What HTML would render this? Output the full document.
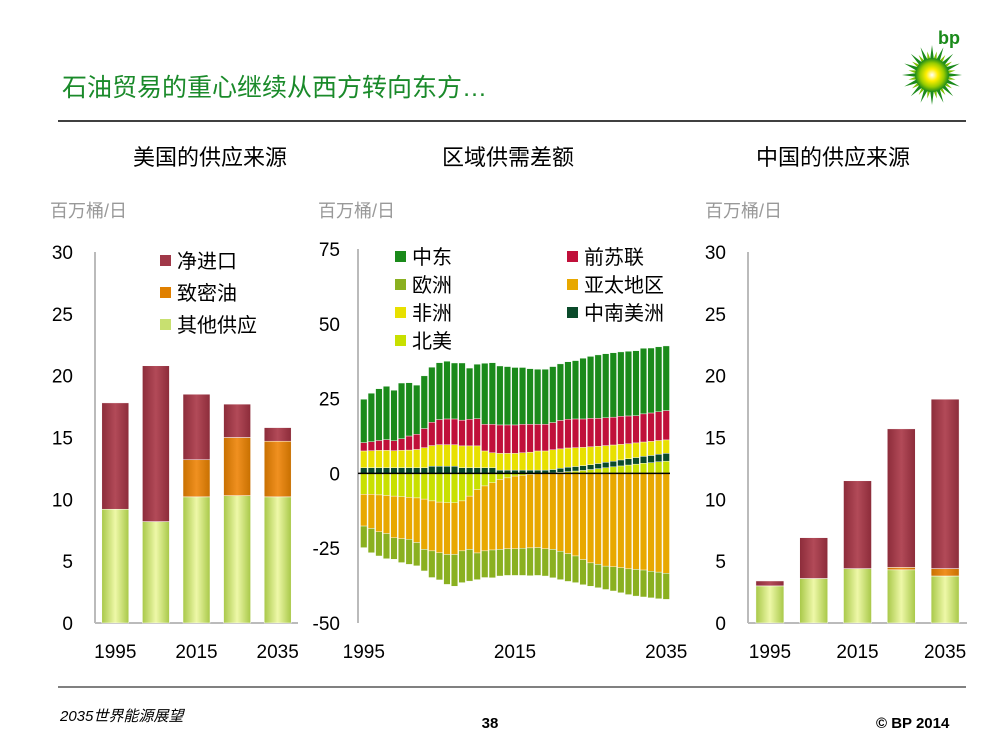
<!DOCTYPE html>
<html><head><meta charset="utf-8"><style>
body{margin:0;background:#fff}
svg text{font-family:"Liberation Sans","Noto Sans CJK SC",sans-serif}
</style></head><body>
<svg id="s" width="1000" height="750" viewBox="0 0 1000 750" xmlns="http://www.w3.org/2000/svg">
<defs>
<linearGradient id="gOther" x1="0" x2="1"><stop offset="0" stop-color="#a8c848"/><stop offset="0.5" stop-color="#eef8a8"/><stop offset="1" stop-color="#a8c848"/></linearGradient>
<linearGradient id="gNet" x1="0" x2="1"><stop offset="0" stop-color="#8c2c3a"/><stop offset="0.5" stop-color="#b24a58"/><stop offset="1" stop-color="#8c2c3a"/></linearGradient>
<linearGradient id="gTight" x1="0" x2="1"><stop offset="0" stop-color="#c87000"/><stop offset="0.5" stop-color="#f09020"/><stop offset="1" stop-color="#c87000"/></linearGradient>
<radialGradient id="sun"><stop offset="0" stop-color="#fff"/><stop offset="0.35" stop-color="#ffee00"/><stop offset="0.7" stop-color="#9acd00"/><stop offset="1" stop-color="#1a8a1a"/></radialGradient>
</defs>
<text x="62" y="96" font-size="25" fill="#1a8a2a">石油贸易的重心继续从西方转向东方…</text>
<line x1="58" y1="121" x2="966" y2="121" stroke="#000" stroke-width="1.5"/>
<g>
<text x="938" y="44" font-size="18" fill="#1a8a1a" font-weight="bold">bp</text>
<g id="logo"></g>
</g>
<text x="210" y="165" font-size="22" text-anchor="middle">美国的供应来源</text>
<text x="508" y="165" font-size="22" text-anchor="middle">区域供需差额</text>
<text x="833" y="165" font-size="22" text-anchor="middle">中国的供应来源</text>
<text x="50" y="217" font-size="18" fill="#999">百万桶/日</text>
<text x="318" y="217" font-size="18" fill="#999">百万桶/日</text>
<text x="705" y="217" font-size="18" fill="#999">百万桶/日</text>
<g id="us"></g><g id="mid"></g><g id="cn"></g>
<line x1="58" y1="687" x2="966" y2="687" stroke="#000" stroke-width="1"/>
<text x="60" y="721" font-size="15" font-style="italic">2035世界能源展望</text>
<text x="490" y="728" font-size="15" font-weight="bold" text-anchor="middle">38</text>
<text x="876" y="728" font-size="15" font-weight="bold">© BP 2014</text>
</svg>
<script>
const NS="http://www.w3.org/2000/svg";
function mk(p,t,a){const e=document.createElementNS(NS,t);for(const k in a)e.setAttribute(k,a[k]);p.appendChild(e);return e;}
// logo
(function(){const g=document.getElementById('logo');const cx=932,cy=75;
for(let r=0;r<2;r++)for(let i=0;i<16;i++){const a=(i+r*0.5)/16*Math.PI*2;const R=r?24:30,w=0.2;
mk(g,'polygon',{points:`${cx+Math.cos(a-w)*12},${cy+Math.sin(a-w)*12} ${cx+Math.cos(a)*R},${cy+Math.sin(a)*R} ${cx+Math.cos(a+w)*12},${cy+Math.sin(a+w)*12}`,fill:r?'#7cc000':'#1a8a1a'});}
mk(g,'circle',{cx:cx,cy:cy,r:17,fill:'url(#sun)'});})();

// ===== stacked supply charts data =====
const supplyYears=["1995","2005","2015","2025","2035"];
const usOther=[9.2,8.2,10.2,10.3,10.2];
const usTight=[0,0,3.0,4.7,4.5];
const usNet=[8.6,12.6,5.3,2.7,1.1];
const cnOther=[3.0,3.6,4.4,4.3,3.8];
const cnTight=[0,0,0,0.2,0.6];
const cnNet=[0.4,3.3,7.1,11.2,13.7];
const supplyTicks=[0,5,10,15,20,25,30];
const supplyXLabels=["1995","2015","2035"];

function supplyChart(id,pref,x0,x1,other,tight,net,bw,legend){
  const g=document.getElementById(id);
  const yT=252,yB=623,max=30;
  const y=v=>yB-(v/max)*(yB-yT);
  const step=(x1-x0)/supplyYears.length;
  const xc=i=>x0+step*(i+0.5);
  mk(g,'line',{x1:x0,y1:yT,x2:x0,y2:yB,stroke:'#bbb','stroke-width':2});
  mk(g,'line',{x1:x0,y1:yB,x2:x1,y2:yB,stroke:'#bbb','stroke-width':2});
  supplyTicks.forEach(t=>{const e=mk(g,'text',{x:x0-22,y:y(t)+7,'font-size':19,'text-anchor':'end'});e.textContent=t;
    
    });
  supplyXLabels.forEach((l,k)=>{const i=k*2;const e=mk(g,'text',{x:xc(i),y:yB+35,'font-size':19,'text-anchor':'middle'});e.textContent=l;
    
    });
  supplyYears.forEach((yr,i)=>{let b=0;
    [[other,'url(#gOther)','other'],[tight,'url(#gTight)','tight'],[net,'url(#gNet)','net']].forEach(([arr,f,n])=>{
      const v=arr[i];if(v<=0)return;
      const r=mk(g,'rect',{x:xc(i)-bw/2,y:y(b+v),width:bw,height:y(b)-y(b+v),fill:f,stroke:'#fff','stroke-width':0.5});
      
      
      b+=v;});
  });
  if(legend){[['净进口','#a03848'],['致密油','#e08000'],['其他供应','#c8e070']].forEach(([l,c],k)=>{
    mk(g,'rect',{x:160,y:255+k*32,width:11,height:11,fill:c});
    const t=mk(g,'text',{x:177,y:268+k*32,'font-size':20});t.textContent=l;
    
    });}
}
supplyChart('us','us',95,298,usOther,usTight,usNet,27,true);
supplyChart('cn','china',748,967,cnOther,cnTight,cnNet,28,false);

// ===== regional balance data =====
const balYears=Array.from({length:41},(_,i)=>1995+i);
const balTicks=[-50,-25,0,25,50,75];
const balXLabels=["1995","2015","2035"];
const meVals=[14.5,16.2,17.3,17.8,16.9,18.6,17.8,16.4,17.6,18.4,19.0,19.3,18.7,19.1,17.1,18.2,20.4,20.6,19.7,19.5,19.2,19.0,18.6,18.4,18.4,18.7,18.9,19.2,19.5,20.3,20.7,21.2,21.4,21.5,21.5,21.6,21.7,21.9,21.7,21.7,21.6];
const fsuVals=[2.8,3.0,3.3,3.6,3.3,3.9,4.7,5.1,6.4,7.8,8.4,8.6,8.6,8.6,8.9,9.1,8.9,9.5,9.5,9.5,9.5,9.5,9.3,8.9,8.9,9.1,9.5,9.6,9.6,9.5,9.5,9.3,9.3,9.3,9.4,9.3,9.1,9.4,9.5,9.6,9.8];
const afVals=[5.6,5.7,5.8,5.8,5.7,5.8,5.9,6.1,6.7,6.9,7.2,7.2,7.2,7.3,7.3,7.3,5.6,5.0,5.6,5.6,5.6,5.8,6.0,6.4,6.4,6.6,6.5,6.4,6.3,6.1,6.0,5.8,5.6,5.4,5.2,5.0,4.9,4.8,4.7,4.6,4.5];
const scaVals=[1.9,1.9,1.9,1.9,1.9,1.9,1.9,1.9,1.9,2.4,2.4,2.4,2.4,1.9,1.9,1.9,1.9,1.9,1.1,1.1,1.1,1.1,1.1,1.1,1.1,1.1,1.3,1.5,1.5,1.6,1.6,1.7,1.8,1.9,2.0,2.1,2.2,2.3,2.4,2.5,2.6];
const naVals=[-7.0,-7.0,-7.2,-7.4,-7.6,-7.8,-8.0,-8.2,-8.6,-9.2,-9.6,-9.8,-9.8,-9.2,-7.6,-5.4,-4.2,-3.1,-2.0,-1.5,-0.9,-0.6,-0.3,-0.1,0,0.2,0.4,0.6,0.8,1.0,1.3,1.6,1.9,2.2,2.5,2.8,3.1,3.4,3.6,3.9,4.1];
const asiaVals=[-10.6,-11.4,-12.3,-12.7,-13.9,-14.0,-14.0,-14.9,-16.8,-16.7,-16.9,-17.3,-17.3,-16.7,-17.8,-21.2,-21.7,-22.5,-23.4,-23.7,-24.3,-24.4,-24.6,-24.7,-25.2,-25.4,-26.0,-26.8,-27.6,-28.8,-29.9,-30.4,-31.0,-31.2,-31.5,-31.9,-32.1,-32.3,-32.7,-33.0,-33.4];
const euVals=[-7.2,-8.1,-8.1,-8.4,-7.2,-8.0,-8.4,-7.8,-7.2,-8.9,-9.1,-10.0,-10.6,-10.6,-10.6,-8.9,-8.9,-9.3,-8.9,-8.9,-8.9,-9.1,-9.3,-9.3,-9.1,-9.5,-9.5,-9.3,-8.9,-8.4,-7.8,-7.8,-7.8,-8.1,-8.4,-8.6,-8.9,-9.0,-8.9,-8.9,-8.7];
(function(){
  const g=document.getElementById('mid');
  const x0=358,x1=670,yT=249,yB=623,mn=-50,mx=75;
  const y=v=>yB-(v-mn)/(mx-mn)*(yB-yT);
  const step=(x1-x0-2)/balYears.length;
  const xl=i=>x0+2+step*i;
  mk(g,'line',{x1:x0,y1:yT,x2:x0,y2:yB,stroke:'#bbb','stroke-width':2});
  balTicks.forEach(t=>{const e=mk(g,'text',{x:x0-18,y:y(t)+7,'font-size':19,'text-anchor':'end'});e.textContent=t;
    
    });
  balXLabels.forEach((l,k)=>{const i=balYears.indexOf(+l);const e=mk(g,'text',{x:xl(i)+step/2,y:yB+35,'font-size':19,'text-anchor':'middle'});e.textContent=l;
    
    });
  const series=[['na',naVals,'#c8e000'],['sca',scaVals,'#0a4a2a'],['africa',afVals,'#e8e000'],['fsu',fsuVals,'#c0103a'],['me',meVals,'#1a8a1a'],['asia',asiaVals,'#e8a800'],['europe',euVals,'#8ab020']];
  balYears.forEach((yr,i)=>{let pos=0,neg=0;
    series.forEach(([n,arr,c])=>{const v=arr[i];if(v===0)return;let a,b;
      if(v>0){a=pos;b=pos+v;pos=b;}else{a=neg;b=neg+v;neg=b;}
      const top=y(Math.max(a,b)),bot=y(Math.min(a,b));
      const r=mk(g,'rect',{x:xl(i)+0.5,y:top,width:step-1,height:bot-top,fill:c,stroke:'#fff','stroke-width':0.4});
      
      });
  });
  mk(g,'line',{x1:x0,y1:y(0),x2:x1,y2:y(0),stroke:'#000','stroke-width':1.5});
  const leg=[['中东','#1a8a1a',395,257],['欧洲','#8ab020',395,285],['非洲','#e8e000',395,313],['北美','#c8e000',395,341],['前苏联','#c0103a',567,257],['亚太地区','#e8a800',567,285],['中南美洲','#0a4a2a',567,313]];
  leg.forEach(([l,c,x,yy])=>{mk(g,'rect',{x:x,y:yy-6,width:11,height:11,fill:c});
    const t=mk(g,'text',{x:x+17,y:yy+7,'font-size':20});t.textContent=l;
    
    });
})();
</script>
</body></html>
